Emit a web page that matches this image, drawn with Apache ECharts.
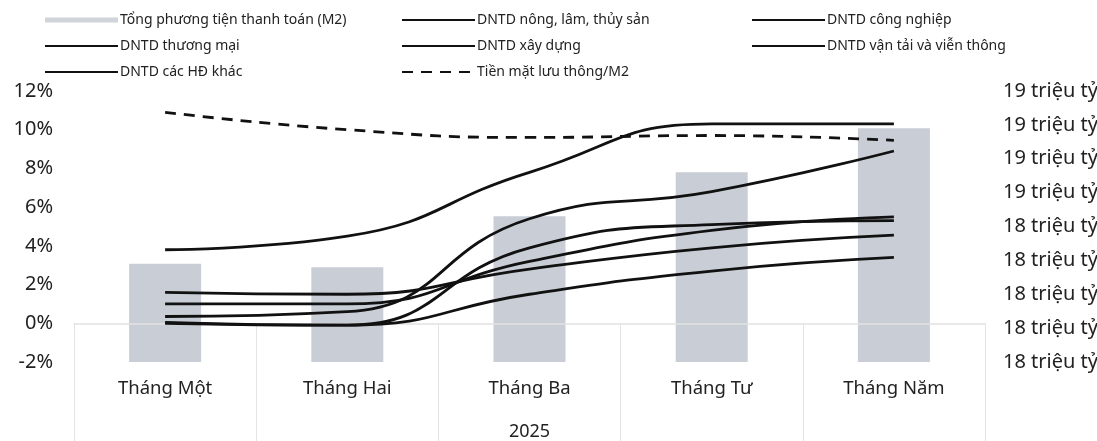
<!DOCTYPE html>
<html>
<head>
<meta charset="utf-8">
<script src="https://cdn.jsdelivr.net/npm/echarts@6/dist/echarts.min.js"></script>
<style>
  html, body { margin: 0; padding: 0; background: #fff; }
  #main { width: 1097px; height: 441px; }
</style>
</head>
<body>
<div id="main"></div>
<script>
// du lieu doc tu hinh
var categories = ['Tháng Một', 'Tháng Hai', 'Tháng Ba', 'Tháng Tư', 'Tháng Năm'];
var yearLabel = '2025';
// M2, don vi: nghin ty
var m2 = [18180, 18160, 18460, 18720, 18980];
// tang truong tin dung (%)
var nongLam = [3.8, 4.5, 7.8, 10.3, 10.3];
var congNghiep = [0.35, 0.6, 5.4, 6.8, 8.9];
var thuongMai = [0.05, -0.1, 3.9, 5.1, 5.3];
var xayDung = [1.0, 1.0, 3.2, 4.8, 5.5];
var vanTai = [1.6, 1.5, 2.8, 3.9, 4.55];
var hdKhac = [0.0, -0.1, 1.5, 2.7, 3.4];
var tienMat = [10.9, 10.0, 9.6, 9.7, 9.45];

var leftTicks = { min: -2, max: 12, interval: 2 };
var rightTicks = { min: 17600, max: 19200, interval: 200 };

var FONT = 'Noto Sans';
var chart = echarts.init(document.getElementById('main'), null, { renderer: 'canvas' });

function lineSeries(name, data, dashed) {
  return {
    name: name,
    type: 'line',
    yAxisIndex: 0,
    smooth: 0.5,
    symbol: 'none',
    z: 5,
    lineStyle: { color: '#111', width: 2.8, type: dashed ? [11, 8] : 'solid' },
    itemStyle: { color: '#111' },
    data: data
  };
}

// an cham tron tren icon legend cua line
var legendCommon = {
  orient: 'vertical',
  top: 8,
  itemWidth: 73,
  itemHeight: 14,
  itemGap: 12,
  selectedMode: false,
  itemStyle: { opacity: 0 },
  textStyle: { fontFamily: FONT, fontSize: 14, color: '#222', padding: [0, 0, 0, -3] }
};

var option = {
  animation: false,
  backgroundColor: '#fff',
  legend: [
    Object.assign({}, legendCommon, {
      left: 39,
      data: [
        { name: 'Tổng phương tiện thanh toán (M2)', icon: 'path://M0,0 L73,0 L73,5 L0,5 Z', itemStyle: { opacity: 1, color: '#d0d4db' } },
        'DNTD thương mại',
        'DNTD các HĐ khác'
      ]
    }),
    Object.assign({}, legendCommon, {
      left: 396,
      data: ['DNTD nông, lâm, thủy sản', 'DNTD xây dựng', 'Tiền mặt lưu thông/M2']
    }),
    Object.assign({}, legendCommon, {
      left: 746,
      data: ['DNTD công nghiệp', 'DNTD vận tải và viễn thông']
    })
  ],
  grid: { left: 74, right: 112, top: 91, bottom: 79, containLabel: false, outerBoundsMode: 'none' },
  xAxis: {
    type: 'category',
    data: categories,
    z: 3,
    axisLine: { onZero: true, lineStyle: { color: '#e2e2e2', width: 1.5 } },
    axisTick: { show: true, length: 118, lineStyle: { color: '#e4e4e4' } },
    axisLabel: { margin: 17, fontFamily: FONT, fontSize: 18.5, color: '#222' },
    name: yearLabel,
    nameLocation: 'middle',
    nameGap: 61,
    nameTextStyle: { fontFamily: FONT, fontSize: 18, color: '#222' }
  },
  yAxis: [
    {
      type: 'value',
      min: leftTicks.min,
      max: leftTicks.max,
      interval: leftTicks.interval,
      splitLine: { show: false },
      axisLine: { show: false },
      axisTick: { show: false },
      axisLabel: { margin: 21, fontFamily: FONT, fontSize: 20, color: '#222', formatter: '{value}%' }
    },
    {
      type: 'value',
      position: 'right',
      min: rightTicks.min,
      max: rightTicks.max,
      interval: rightTicks.interval,
      splitLine: { show: false },
      axisLine: { show: false },
      axisTick: { show: false },
      axisLabel: {
        margin: 18,
        fontFamily: FONT,
        fontSize: 20,
        color: '#222',
        formatter: function (v) { return Math.round(v / 1000) + ' triệu tỷ'; }
      }
    }
  ],
  series: [
    {
      name: 'Tổng phương tiện thanh toán (M2)',
      type: 'bar',
      yAxisIndex: 1,
      barWidth: 72,
      z: 2,
      itemStyle: { color: '#c9ced6' },
      data: m2
    },
    lineSeries('DNTD nông, lâm, thủy sản', nongLam),
    lineSeries('DNTD công nghiệp', congNghiep),
    lineSeries('DNTD thương mại', thuongMai),
    lineSeries('DNTD xây dựng', xayDung),
    lineSeries('DNTD vận tải và viễn thông', vanTai),
    lineSeries('DNTD các HĐ khác', hdKhac),
    lineSeries('Tiền mặt lưu thông/M2', tienMat, true)
  ]
};
chart.setOption(option);
</script>
</body>
</html>
